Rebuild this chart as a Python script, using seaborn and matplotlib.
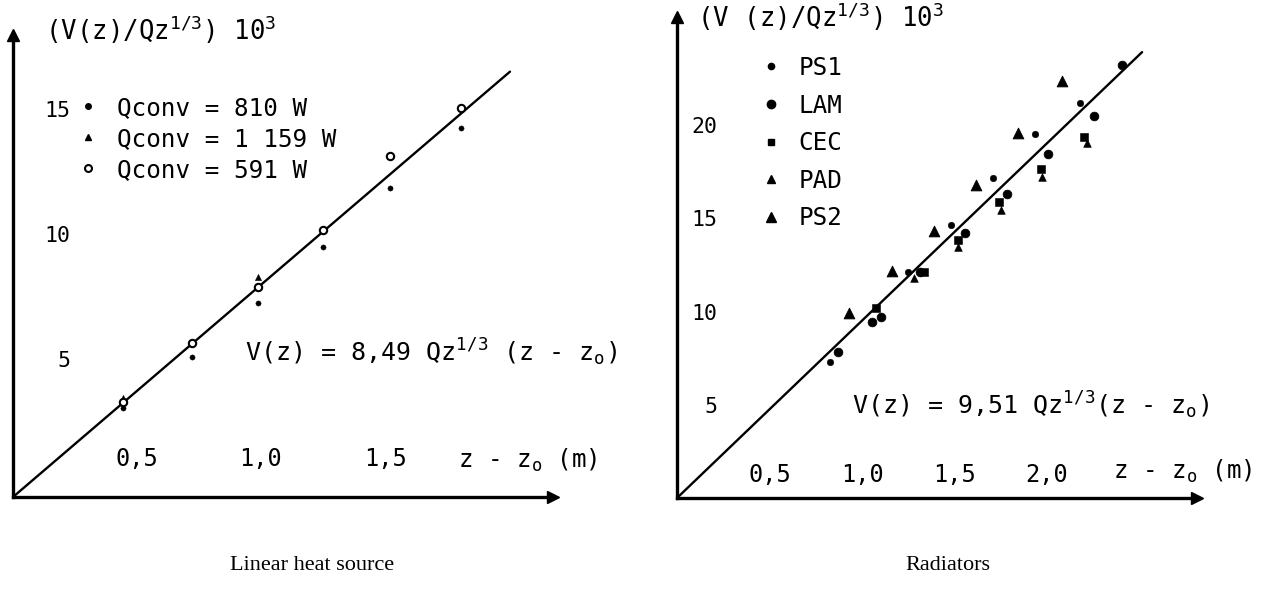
import matplotlib
matplotlib.use('Agg')
import matplotlib.pyplot as plt
import seaborn as sns
from matplotlib.lines import Line2D
from matplotlib.transforms import ScaledTranslation

# ---------------- data: left panel (linear heat source) ----------------
left_x = [0.444, 0.722, 0.988, 1.25, 1.52, 1.806]
q810_y = [3.56, 5.60, 7.76, 10.00, 12.36, 14.76]
q1159_x = [0.444, 0.988]
q1159_y = [3.96, 8.80]
q591_y = [3.80, 6.16, 8.40, 10.68, 13.64, 15.56]
left_slope = 8.49
left_fit_x = [0.0, 2.004]
left_xticks = [0.5, 1.0, 1.5, 2.0]
left_xticklabels = ['0,5', '1,0', '1,5', '']
left_yticks = [5, 10, 15]
left_yticklabels = ['5', '10', '15']
left_labels = ['Qconv = 810 W', 'Qconv = 1 159 W', 'Qconv = 591 W']

# ---------------- data: right panel (radiators) ----------------
ps1_x = [0.827, 1.249, 1.481, 1.708, 1.935, 2.178]
ps1_y = [7.29, 12.12, 14.64, 17.16, 19.52, 21.18]
lam_x = [0.870, 1.054, 1.103, 1.314, 1.557, 1.784, 2.005, 2.254, 2.405]
lam_y = [7.83, 9.44, 9.71, 12.12, 14.21, 16.30, 18.45, 20.48, 23.22]
cec_x = [1.076, 1.335, 1.519, 1.741, 1.968, 2.200]
cec_y = [10.19, 12.12, 13.83, 15.87, 17.64, 19.36]
pad_x = [1.281, 1.519, 1.751, 1.973, 2.216]
pad_y = [11.80, 13.46, 15.44, 17.21, 19.03]
ps2_x = [0.930, 1.162, 1.389, 1.616, 1.843, 2.081]
ps2_y = [9.92, 12.17, 14.32, 16.78, 19.57, 22.36]
right_slope = 9.51
right_fit_x = [0.0, 2.514]
right_xticks = [0.5, 1.0, 1.5, 2.0, 2.5]
right_xticklabels = ['0,5', '1,0', '1,5', '2,0', '']
right_yticks = [5, 10, 15, 20]
right_yticklabels = ['5', '10', '15', '20']
right_labels = ['PS1', 'LAM', 'CEC', 'PAD', 'PS2']

# ---------------- style ----------------
sns.set_style('white')
plt.rcParams['font.family'] = ['DejaVu Sans Mono']
plt.rcParams['mathtext.fontset'] = 'custom'
for k in ['rm', 'it', 'bf', 'sf', 'tt']:
    plt.rcParams['mathtext.' + k] = 'DejaVu Sans Mono'
for k in ['text.color', 'axes.labelcolor', 'xtick.color', 'ytick.color', 'axes.edgecolor']:
    plt.rcParams[k] = 'black'

FS = 17.5
W, H = 1264, 602
fig = plt.figure(figsize=(W / 100, H / 100), dpi=100)
fig.patch.set_facecolor('white')


def add_axes_px(x0, y_bottom, x1, y_top):
    return fig.add_axes([x0 / W, (H - y_bottom) / H, (x1 - x0) / W, (y_bottom - y_top) / H])


def ftext(x, y, s, **kw):
    fig.text(x / W, 1 - y / H, s, color='black', **kw)


def style_axes(ax, xlim, ylim, xticks, xtl, yticks, ytl, xpad, ypad, ylab_shift):
    ax.set_xlim(*xlim)
    ax.set_ylim(*ylim)
    ax.set_facecolor('white')
    for s in ['top', 'right']:
        ax.spines[s].set_visible(False)
    for s in ['left', 'bottom']:
        ax.spines[s].set_linewidth(2.4)
        ax.spines[s].set_color('black')
    ax.set_xticks(xticks, xtl)
    ax.set_yticks(yticks, ytl)
    ax.tick_params(axis='both', direction='in', length=4, width=2, color='black',
                   labelcolor='black')
    ax.tick_params(axis='x', pad=xpad, labelsize=17)
    ax.tick_params(axis='y', pad=ypad, labelsize=15.5)
    for lbl in ax.get_yticklabels():
        lbl.set_transform(lbl.get_transform() + ScaledTranslation(0, ylab_shift / 100, fig.dpi_scale_trans))
    ax.set_xlabel('')
    ax.set_ylabel('')
    ax.grid(False)
    # arrow heads
    ax.plot([0], [1], marker='^', ms=9, color='black', transform=ax.transAxes, clip_on=False)
    ax.plot([1], [0], marker='>', ms=9, color='black', transform=ax.transAxes, clip_on=False)


# ---------------- left panel ----------------
axL = add_axes_px(13, 497, 553, 35)
style_axes(axL, (0, 540 / 248), (0, 462 / 25), left_xticks, left_xticklabels,
           left_yticks, left_yticklabels, xpad=-36, ypad=-41, ylab_shift=13)

sns.lineplot(x=left_fit_x, y=[left_slope * v for v in left_fit_x], color='black',
             linewidth=1.7, ax=axL)
sns.scatterplot(x=left_x, y=q810_y, marker='o', s=14, color='black', edgecolor='black', ax=axL)
sns.scatterplot(x=q1159_x, y=q1159_y, marker='^', s=20, color='black', edgecolor='black', ax=axL)
sns.scatterplot(x=left_x, y=q591_y, marker='o', s=28, facecolor='white', edgecolor='black',
                linewidth=1.5, ax=axL, zorder=3)

hL = [Line2D([], [], ls='', marker='o', ms=4, color='black'),
      Line2D([], [], ls='', marker='^', ms=5, color='black'),
      Line2D([], [], ls='', marker='o', ms=5, mfc='white', mec='black', mew=1.5)]
legL = axL.legend(hL, left_labels, loc='upper left', bbox_to_anchor=(76 / W, 1 - 96 / H),
                  bbox_transform=fig.transFigure, frameon=False, fontsize=FS,
                  handlelength=1.0, handletextpad=0.7, labelspacing=0.28, borderpad=0,
                  borderaxespad=0)

ftext(45, 40, r'(V(z)/Qz$^{1/3}$) 10$^{3}$', fontsize=18.5, va='baseline', ha='left')
ftext(245, 352, r'V(z) = 8,49 Qz$^{1/3}$ (z - z$_{\mathrm{o}}$)', fontsize=18, va='center', ha='left')
ftext(458, 460, r'z - z$_{\mathrm{o}}$ (m)', fontsize=FS, va='center', ha='left')

# ---------------- right panel ----------------
axR = add_axes_px(677, 498, 1197, 17)
style_axes(axR, (0, 520 / 185), (0, 481 / 18.65), right_xticks, right_xticklabels,
           right_yticks, right_yticklabels, xpad=-25, ypad=-29, ylab_shift=0)

sns.lineplot(x=right_fit_x, y=[right_slope * v for v in right_fit_x], color='black',
             linewidth=1.7, ax=axR)
sns.scatterplot(x=ps1_x, y=ps1_y, marker='o', s=22, color='black', edgecolor='black', ax=axR)
sns.scatterplot(x=lam_x, y=lam_y, marker='o', s=40, color='black', edgecolor='black', ax=axR)
sns.scatterplot(x=cec_x, y=cec_y, marker='s', s=26, color='black', edgecolor='black', ax=axR)
sns.scatterplot(x=pad_x, y=pad_y, marker='^', s=30, color='black', edgecolor='black', ax=axR)
sns.scatterplot(x=ps2_x, y=ps2_y, marker='^', s=60, color='black', edgecolor='black', ax=axR)

hR = [Line2D([], [], ls='', marker='o', ms=4.5, color='black'),
      Line2D([], [], ls='', marker='o', ms=6, color='black'),
      Line2D([], [], ls='', marker='s', ms=5, color='black'),
      Line2D([], [], ls='', marker='^', ms=5.5, color='black'),
      Line2D([], [], ls='', marker='^', ms=7, color='black')]
legR = axR.legend(hR, right_labels, loc='upper left', bbox_to_anchor=(759 / W, 1 - 56 / H),
                  bbox_transform=fig.transFigure, frameon=False, fontsize=FS,
                  handlelength=1.0, handletextpad=0.62, labelspacing=0.56, borderpad=0,
                  borderaxespad=0)

ftext(697, 27, r'(V (z)/Qz$^{1/3}$) 10$^{3}$', fontsize=18.5, va='baseline', ha='left')
ftext(852, 405, r'V(z) = 9,51 Qz$^{1/3}$(z - z$_{\mathrm{o}}$)', fontsize=18, va='center', ha='left')
ftext(1113, 471, r'z - z$_{\mathrm{o}}$ (m)', fontsize=FS, va='center', ha='left')

# ---------------- captions ----------------
ftext(312, 566, 'Linear heat source', fontsize=16, family='Liberation Serif', ha='center', va='center')
ftext(948, 566, 'Radiators', fontsize=16, family='Liberation Serif', ha='center', va='center')

fig.savefig('out.png', dpi=100, facecolor='white')
